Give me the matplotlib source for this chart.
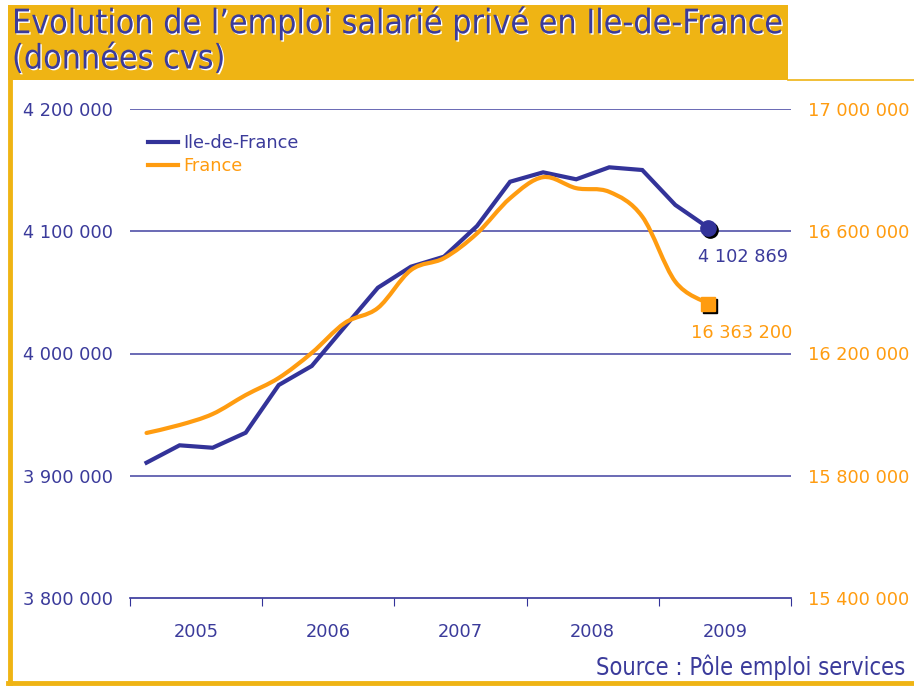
import numpy as np
import matplotlib
matplotlib.use('Agg')
import matplotlib.pyplot as plt
import matplotlib.patheffects as pe
from matplotlib.path import Path
from matplotlib.patches import PathPatch, Rectangle
from matplotlib.lines import Line2D
from matplotlib.transforms import offset_copy

# quarterly data, 2005 Q1 -> 2009 Q2
years = ['2005', '2006', '2007', '2008', '2009']
idf = [3910700, 3924900, 3922900, 3935200, 3974200, 3989800, 4021900, 4053800,
       4071000, 4079200, 4104300, 4140500, 4148200, 4142500, 4152300, 4150100,
       4121500, 4102869]
france = [15940000, 15966000, 16002000, 16064000, 16120000, 16202000, 16300000, 16349000,
          16473000, 16512000, 16593000, 16708000, 16777000, 16741000, 16729000, 16648000,
          16435000, 16363200]
left_ticks = [3800000, 3900000, 4000000, 4100000, 4200000]
right_ticks = [15400000, 15800000, 16200000, 16600000, 17000000]

BLUE = '#333399'
ORANGE = '#FF9C10'
YELLOW = '#EFB414'
TXT_BLUE = '#3B3B9B'


def fmt(v):
    return f'{v:,}'.replace(',', ' ')


def smooth_path(x, y):
    # catmull-rom style bezier through the data points (like a smoothed line)
    pts = np.column_stack([x, y]).astype(float)
    verts = [pts[0]]
    codes = [Path.MOVETO]
    n = len(pts)
    for i in range(n - 1):
        p0 = pts[max(i - 1, 0)]
        p1 = pts[i]
        p2 = pts[i + 1]
        p3 = pts[min(i + 2, n - 1)]
        c1 = p1 + (p2 - p0) / 6
        c2 = p2 - (p3 - p1) / 6
        verts += [c1, c2, p2]
        codes += [Path.CURVE4] * 3
    return Path(verts, codes)


fig = plt.figure(figsize=(9.14, 6.86), dpi=100)

# frame decoration
W, H = 914, 686
fig.patches.append(Rectangle((8 / W, 1 - 80 / H), 780 / W, 75 / H, transform=fig.transFigure,
                             facecolor=YELLOW, edgecolor='none', zorder=0))
fig.lines.append(Line2D([10 / W, 10 / W], [1 - 80 / H, 3 / H], transform=fig.transFigure,
                        color=YELLOW, lw=3.5))
fig.lines.append(Line2D([8 / W, 1], [3 / H, 3 / H], transform=fig.transFigure,
                        color=YELLOW, lw=3.5))
fig.lines.append(Line2D([788 / W, 1], [1 - 79.5 / H, 1 - 79.5 / H], transform=fig.transFigure,
                        color=YELLOW, lw=1.2))

shadow = [pe.withSimplePatchShadow(offset=(1, -1), shadow_rgbFace='white', alpha=1.0)]
fig.text(12 / W, 1 - 23 / H, 'Evolution de l\u2019emploi salari\u00e9 priv\u00e9 en Ile-de-France',
         family='DejaVu Sans', stretch='condensed', fontsize=24.3, color=TXT_BLUE,
         va='center', ha='left', path_effects=shadow)
fig.text(12 / W, 1 - 59 / H, '(donn\u00e9es cvs)',
         family='DejaVu Sans', stretch='condensed', fontsize=24.3, color=TXT_BLUE,
         va='center', ha='left', path_effects=shadow)
fig.text(905 / W, 1 - 667 / H, 'Source : P\u00f4le emploi services',
         family='DejaVu Sans', stretch='condensed', fontsize=17, color=TXT_BLUE,
         va='center', ha='right')

ax = fig.add_axes([130 / W, 88 / H, 661 / W, 489 / H])
ax2 = ax.twinx()

x = np.arange(len(idf))
ax.set_xlim(-0.5, 19.5)
ax.set_ylim(left_ticks[0], left_ticks[-1])
ax2.set_ylim(right_ticks[0], right_ticks[-1])

for a in (ax, ax2):
    for s in a.spines.values():
        s.set_visible(False)
ax.spines['bottom'].set_visible(True)
ax.spines['bottom'].set_color(BLUE)
ax.spines['bottom'].set_linewidth(1.2)

for t in left_ticks[1:]:
    ax.axhline(t, color='#5050A8', lw=1.2, zorder=1)

ax.set_yticks(left_ticks)
ax.set_yticklabels([fmt(v) for v in left_ticks])
ax.tick_params(axis='y', length=0, pad=12, labelsize=12.8, labelcolor=TXT_BLUE)
ax2.set_yticks(right_ticks)
ax2.set_yticklabels([fmt(v) for v in right_ticks])
ax2.tick_params(axis='y', length=0, pad=12, labelsize=12.8, labelcolor=ORANGE)

ax.set_xticks(np.arange(-0.5, 20, 4))
ax.set_xticklabels([])
ax.set_xticks(np.arange(1.5, 20, 4), minor=True)
ax.set_xticklabels(years, minor=True)
ax.tick_params(axis='x', which='major', length=6, color=BLUE, direction='out')
ax.tick_params(axis='x', which='minor', length=0, pad=18, labelsize=12.8, labelcolor=TXT_BLUE)

# lines
ax.plot(x, idf, color=BLUE, lw=3, zorder=4, solid_joinstyle='miter')
ax2.add_patch(PathPatch(smooth_path(x, france), facecolor='none', edgecolor=ORANGE,
                        lw=3, zorder=3, capstyle='round'))
ax2.set_zorder(ax.get_zorder() + 1)
ax2.patch.set_visible(False)

# end markers with shadow
sh_ax = offset_copy(ax.transData, fig=fig, x=2, y=-2, units='dots')
sh_ax2 = offset_copy(ax2.transData, fig=fig, x=2, y=-2, units='dots')
ax2.plot([x[-1]], [france[-1]], 's', color='black', ms=10, transform=sh_ax2, zorder=5)
ax2.plot([x[-1]], [france[-1]], 's', color=ORANGE, ms=10, zorder=6)
ax2.plot([x[-1]], [idf[-1]], 'o', color='black', ms=11, transform=sh_ax, zorder=5)
ax2.plot([x[-1]], [idf[-1]], 'o', color=BLUE, ms=11, transform=ax.transData, zorder=6)

ax2.annotate(fmt(idf[-1]), xy=(x[-1], idf[-1]), xycoords=ax.transData,
             xytext=(25, -21), textcoords='offset points', ha='center', va='center',
             fontsize=12.8, color=TXT_BLUE)
ax2.annotate(fmt(france[-1]), xy=(x[-1], france[-1]),
             xytext=(24, -21), textcoords='offset points', ha='center', va='center',
             fontsize=12.8, color=ORANGE)

# legend
handles = [Line2D([], [], color=BLUE, lw=3), Line2D([], [], color=ORANGE, lw=3)]
leg = ax2.legend(handles, ['Ile-de-France', 'France'], loc='upper left',
                 bbox_to_anchor=(0.0, 0.985), frameon=False, fontsize=12.8,
                 handlelength=1.7, handletextpad=0.3, labelspacing=0.3, borderaxespad=0.6)
for txt, c in zip(leg.get_texts(), [TXT_BLUE, ORANGE]):
    txt.set_color(c)

fig.savefig('out.png', dpi=100)
